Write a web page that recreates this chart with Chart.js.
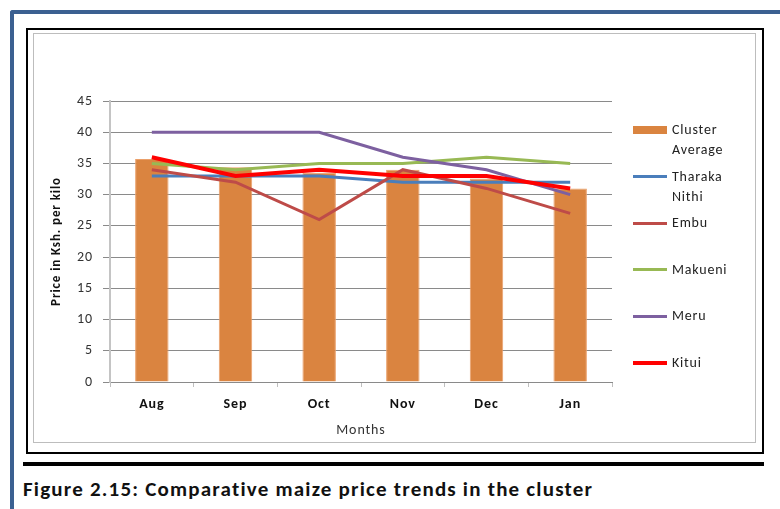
<!DOCTYPE html>
<html>
<head>
<meta charset="utf-8">
<script src="https://cdn.jsdelivr.net/npm/chart.js@4"></script>
<style>
  body { margin: 0; background: #fff; font-family: Carlito, Lato, "Open Sans", sans-serif; }
  #page { position: relative; width: 780px; height: 509px; overflow: hidden; }
  .abs { position: absolute; }
  #blueTop { left: 10px; top: 10px; width: 770px; height: 4px; background: #3b6091; border-top-left-radius: 3px; }
  #blueLeft { left: 10px; top: 10px; width: 4px; height: 499px; background: #3b6091; border-top-left-radius: 3px; }
  #blackBox { left: 26px; top: 28px; width: 738px; height: 426px; border: 2px solid #000; box-sizing: border-box; }
  #grayBox { left: 33px; top: 33px; width: 723px; height: 410px; border: 1.5px solid #bdbdbd; box-sizing: border-box; }
  #chart { left: 33px; top: 33px; }
  #rule { left: 23px; top: 462px; width: 741px; height: 4px; background: #000; }
  #caption { left: 23px; top: 476px; font-weight: bold; font-size: 21px; letter-spacing: 1.2px; color: #111; white-space: nowrap; }
  .legText { font-size: 14px; line-height: 20px; letter-spacing: 0.8px; color: #222; width: 68px; }
</style>
</head>
<body>
<div id="page">
  <div id="blueTop" class="abs"></div>
  <div id="blueLeft" class="abs"></div>
  <div id="blackBox" class="abs"></div>
  <canvas id="chart" class="abs" width="723" height="410"></canvas>
  <div id="grayBox" class="abs"></div>
  <div id="legend"></div>
  <div id="rule" class="abs"></div>
  <div id="caption" class="abs">Figure 2.15: Comparative maize price trends in the cluster</div>
</div>
<script>
const months = ["Aug", "Sep", "Oct", "Nov", "Dec", "Jan"];
const clusterAverage = [35.7, 34.4, 33.5, 34.0, 32.6, 31.0];
const tharakaNithi = [33, 33, 33, 32, 32, 32];
const embu = [34, 32, 26, 34, 31, 27];
const makueni = [35, 34, 35, 35, 36, 35];
const meru = [40, 40, 40, 36, 34, 30];
const kitui = [36, 33, 34, 33, 33, 31];
const yTicks = [0, 5, 10, 15, 20, 25, 30, 35, 40, 45];

const font = "Carlito, Lato, 'Open Sans', sans-serif";

const lines = [
    { label: "Tharaka Nithi", data: tharakaNithi, color: "#4a7ebb", width: 3, order: 5 },
    { label: "Embu", data: embu, color: "#be4b48", width: 3, order: 4 },
    { label: "Makueni", data: makueni, color: "#98b954", width: 3, order: 3 },
    { label: "Meru", data: meru, color: "#7d60a0", width: 3, order: 2 },
    { label: "Kitui", data: kitui, color: "#ff0000", width: 4, order: 1 }
];

const datasets = [{
    type: "bar",
    label: "Cluster Average",
    data: clusterAverage,
    backgroundColor: "#da8440",
    borderColor: "#eba06a",
    borderWidth: 1,
    barPercentage: 0.4,
    categoryPercentage: 1,
    order: 6
}].concat(lines.map(l => ({
    type: "line",
    label: l.label,
    data: l.data,
    borderColor: l.color,
    backgroundColor: l.color,
    borderWidth: l.width,
    pointRadius: 0,
    tension: 0,
    order: l.order
})));

// the source picture is a bit stretched sideways, so space the canvas text out
const spacing = {
    id: "spacing",
    beforeUpdate: c => { c.ctx.letterSpacing = "0.9px"; },
    beforeDraw: c => { c.ctx.letterSpacing = "0.9px"; }
};

new Chart(document.getElementById("chart").getContext("2d"), {
    data: { labels: months, datasets: datasets },
    plugins: [spacing],
    options: {
        responsive: false,
        devicePixelRatio: 1,
        animation: false,
        layout: { padding: { left: 0, right: 144, top: 68, bottom: 0 } },
        plugins: { legend: { display: false }, tooltip: { enabled: false } },
        scales: {
            x: {
                offset: true,
                afterFit: s => { s.height = 61; },
                grid: { drawOnChartArea: false, drawTicks: true, tickLength: 5, color: "#bfbfbf", offset: true },
                border: { color: "#8a8a8a", width: 1 },
                ticks: { padding: 9, color: "#111", font: { family: font, size: 14, weight: "bold" } },
                title: { display: true, text: "Months", color: "#333", padding: { top: 0, bottom: 4 },
                         font: { family: font, size: 14 } }
            },
            y: {
                min: 0, max: 45,
                afterFit: s => { s.width = 77; },
                afterBuildTicks: s => { s.ticks = yTicks.map(v => ({ value: v })); },
                grid: { color: "#8a8a8a", lineWidth: 1, tickLength: 7 },
                border: { color: "#c4c4c4", width: 2 },
                ticks: { padding: 10, color: "#333", font: { family: font, size: 14 } },
                title: { display: true, text: "Price in Ksh. per kilo", color: "#111", padding: { top: 16, bottom: 0 },
                         font: { family: font, size: 13, weight: "bold" } }
            }
        }
    }
});

// legend on the right, Excel style
const legendItems = [{ label: "Cluster Average", color: "#da8440", bar: true }]
    .concat(lines.map(l => ({ label: l.label, color: l.color, width: l.width })));
const legend = document.getElementById("legend");
legendItems.forEach((item, i) => {
    const top = 120 + i * 46.5;
    const mark = document.createElement("div");
    mark.className = "abs";
    const h = item.bar ? 8 : item.width;
    mark.style.cssText = `left:633px;width:34px;top:${top + 10 - h / 2}px;height:${h}px;background:${item.color};`;
    legend.appendChild(mark);
    const txt = document.createElement("div");
    txt.className = "abs legText";
    txt.style.left = "672px";
    txt.style.top = top + "px";
    txt.textContent = item.label;
    legend.appendChild(txt);
});
</script>
</body>
</html>
